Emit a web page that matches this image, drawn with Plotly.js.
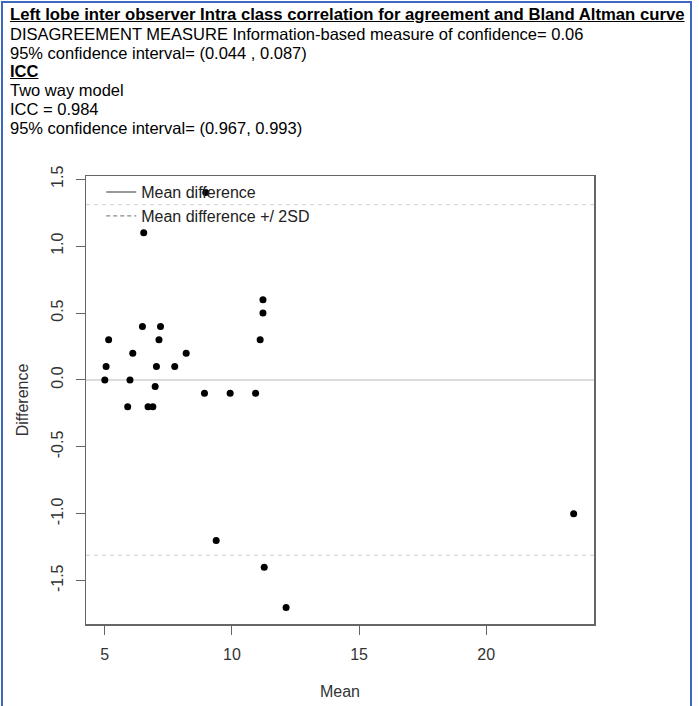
<!DOCTYPE html>
<html>
<head>
<meta charset="utf-8">
<script src="https://cdn.plot.ly/plotly-3.0.1.min.js"></script>
<style>
  html, body { margin: 0; padding: 0; background: #ffffff; }
  #wrap { position: relative; width: 699px; height: 706px; overflow: hidden; background: #fff; }
  #frame { position: absolute; left: 1px; top: 1px; width: 691px; height: 760px; box-sizing: border-box;
           border: 2px solid #3d68c2; pointer-events: none; z-index: 3; }
  #header { position: absolute; left: 10px; top: 6px; z-index: 2;
            font-family: "Liberation Sans", Arial, sans-serif; font-size: 16.5px; line-height: 18.8px; color: #000; white-space: nowrap; }
  #header .b { font-weight: bold; text-decoration: underline; }
  #header .t { font-size: 16.7px; }
  #chart { position: absolute; left: 0; top: 0; width: 699px; height: 706px; }
</style>
</head>
<body>
<div id="wrap">
  <div id="chart"></div>
  <div id="header">
    <div class="b t">Left lobe inter observer Intra class correlation for agreement and Bland Altman curve</div>
    <div>DISAGREEMENT MEASURE Information-based measure of confidence= 0.06</div>
    <div>95% confidence interval= (0.044 , 0.087)</div>
    <div class="b">ICC</div>
    <div>Two way model</div>
    <div>ICC = 0.984</div>
    <div>95% confidence interval= (0.967, 0.993)</div>
  </div>
  <div id="frame"></div>
</div>
<script>
// Bland-Altman data: mean of the two observers vs. their difference
var meanVals = [8.97, 6.53, 11.22, 11.22, 11.11, 6.48, 7.19, 5.15, 7.13, 6.10, 8.20,
                5.05, 7.03, 7.75, 5.00, 5.99, 6.98, 8.92, 9.93, 10.93, 5.90, 6.70, 6.89,
                9.38, 11.27, 12.13, 23.44];
var diffVals = [1.40, 1.10, 0.60, 0.50, 0.30, 0.40, 0.40, 0.30, 0.30, 0.20, 0.20,
                0.10, 0.10, 0.10, 0.00, 0.00, -0.05, -0.10, -0.10, -0.10, -0.20, -0.20, -0.20,
                -1.20, -1.40, -1.70, -1.00];
var meanDifference = [0.0];
var limitsOfAgreement = [1.31, -1.31];
var xTicks = [5, 10, 15, 20];
var yTicks = [-1.5, -1.0, -0.5, 0.0, 0.5, 1.0, 1.5];
var yTickText = ["-1.5", "-1.0", "-0.5", "0.0", "0.5", "1.0", "1.5"];
var legendNames = ["Mean difference", "Mean difference +/ 2SD"];

var font = "Liberation Sans, Arial, sans-serif";

var traces = [
  {
    x: meanVals, y: diffVals, type: "scatter", mode: "markers",
    marker: { color: "#000000", size: 7, symbol: "circle" },
    showlegend: false, hoverinfo: "x+y"
  },
  {
    x: [null], y: [null], type: "scatter", mode: "lines", name: legendNames[0],
    line: { color: "#333333", width: 1.2 }
  },
  {
    x: [null], y: [null], type: "scatter", mode: "lines", name: legendNames[1],
    line: { color: "#888888", width: 1.2, dash: "4px,3px" }
  }
];

var shapes = [
  { type: "line", xref: "paper", x0: 0, x1: 1, yref: "y", y0: meanDifference[0], y1: meanDifference[0],
    line: { color: "#dcdcdc", width: 2 }, layer: "below" },
  { type: "line", xref: "paper", x0: 0, x1: 1, yref: "y", y0: limitsOfAgreement[0], y1: limitsOfAgreement[0],
    line: { color: "#cfcfcf", width: 1, dash: "4px,4px" }, layer: "below" },
  { type: "line", xref: "paper", x0: 0, x1: 1, yref: "y", y0: limitsOfAgreement[1], y1: limitsOfAgreement[1],
    line: { color: "#cfcfcf", width: 1, dash: "4px,4px" }, layer: "below" }
];

var layout = {
  width: 699, height: 706,
  margin: { l: 86, r: 105, t: 176, b: 82, pad: 0 },
  paper_bgcolor: "#ffffff", plot_bgcolor: "#ffffff",
  font: { family: font, size: 16, color: "#333333" },
  showlegend: true,
  legend: {
    x: 0.03, y: 1.002, xanchor: "left", yanchor: "top",
    bgcolor: "rgba(0,0,0,0)", borderwidth: 0,
    font: { family: font, size: 16, color: "#222222" },
    tracegroupgap: 0, itemwidth: 30
  },
  xaxis: {
    range: [4.26, 24.24], tickvals: xTicks, ticktext: xTicks.map(String),
    showgrid: false, zeroline: false,
    showline: true, mirror: true, linecolor: "#666666", linewidth: 1.5,
    ticks: "outside", ticklen: 9, tickwidth: 1, tickcolor: "#666666",
    ticklabelstandoff: 6,
    tickfont: { family: font, size: 16, color: "#333333" },
    title: { text: "Mean", font: { family: font, size: 16, color: "#333333" }, standoff: 24 }
  },
  yaxis: {
    range: [-1.824, 1.524], tickvals: yTicks, ticktext: yTickText, tickangle: -90,
    showgrid: false, zeroline: false,
    showline: true, mirror: true, linecolor: "#666666", linewidth: 1.5,
    ticks: "outside", ticklen: 9, tickwidth: 1, tickcolor: "#666666",
    ticklabelstandoff: 6,
    tickfont: { family: font, size: 16, color: "#333333" },
    title: { text: "Difference", font: { family: font, size: 16, color: "#333333" }, standoff: 16 }
  },
  shapes: shapes
};

Plotly.newPlot("chart", traces, layout, { displayModeBar: false, staticPlot: true });
</script>
</body>
</html>
